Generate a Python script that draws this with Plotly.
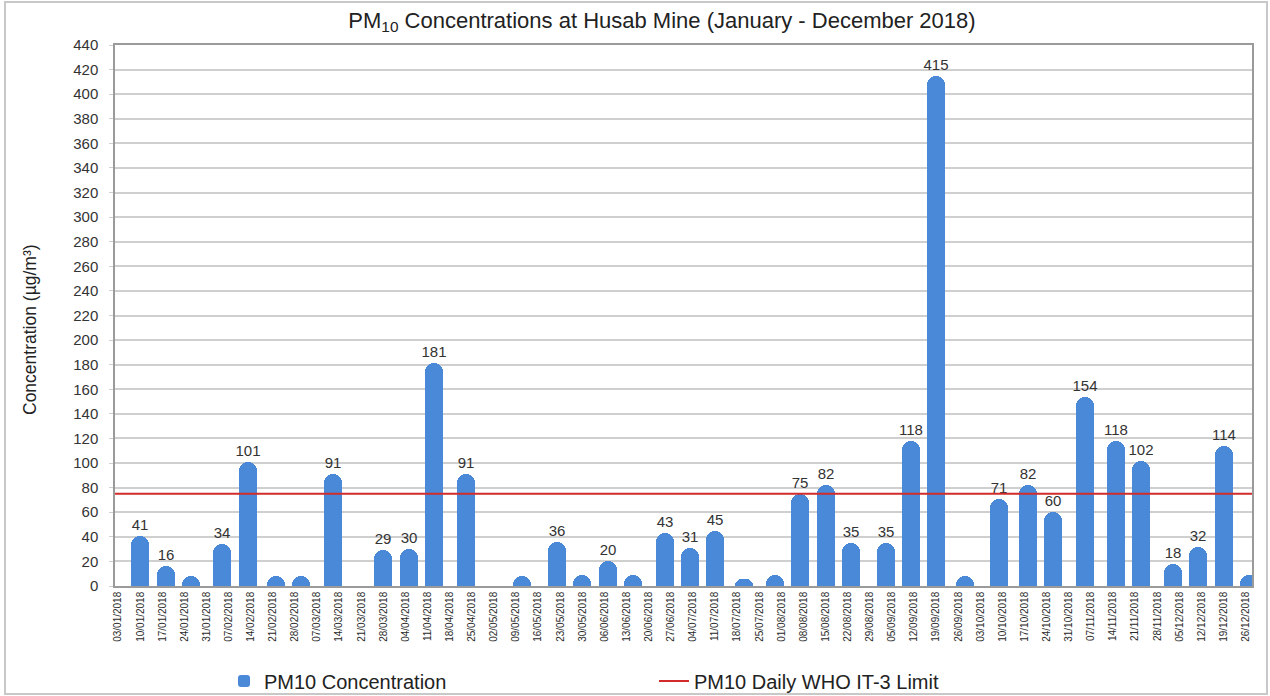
import plotly.graph_objects as go

# ---- data ----
sample_dates = [
    "2018-01-10", "2018-01-18", "2018-01-26", "2018-02-05", "2018-02-13",
    "2018-02-22", "2018-03-02", "2018-03-12", "2018-03-28", "2018-04-05",
    "2018-04-13", "2018-04-23", "2018-05-11", "2018-05-22", "2018-05-30",
    "2018-06-07", "2018-06-15", "2018-06-25", "2018-07-03", "2018-07-11",
    "2018-07-20", "2018-07-30", "2018-08-07", "2018-08-15", "2018-08-23",
    "2018-09-03", "2018-09-11", "2018-09-19", "2018-09-28", "2018-10-09",
    "2018-10-18", "2018-10-26", "2018-11-05", "2018-11-15", "2018-11-23",
    "2018-12-03", "2018-12-11", "2018-12-19", "2018-12-27",
]
pm10_values = [
    41, 16, 8, 34, 101,
    8, 8, 91, 29, 30,
    181, 91, 8, 36, 9,
    20, 9, 43, 31, 45,
    6, 9, 75, 82, 35,
    35, 118, 415, 8, 71,
    82, 60, 154, 118, 102,
    18, 32, 114, 9,
]
who_limit = 75
axis_start = "2018-01-02"
axis_end = "2018-12-28"
first_tick = "2018-01-03"

title_text = "PM<sub>10</sub> Concentrations at Husab Mine (January - December 2018)"
y_title = "Concentration (µg/m³)"
bar_name = "PM10 Concentration"
line_name = "PM10 Daily WHO IT-3 Limit"

DAY_MS = 86400000
FONT = "Liberation Sans, Arial, sans-serif"
BLUE = "#4A88D8"
RED = "#D22B2B"

labels = [str(v) if v >= 12 else "" for v in pm10_values]

fig = go.Figure()
fig.add_trace(go.Bar(
    x=sample_dates, y=pm10_values, name=bar_name,
    width=5.7 * DAY_MS,
    marker=dict(color=BLUE, cornerradius="50%", line=dict(width=0)),
    text=labels, textposition="outside", constraintext="none",
    textfont=dict(family=FONT, size=15, color="#333333"),
    cliponaxis=False,
))
fig.add_trace(go.Scatter(
    x=[axis_start, axis_end], y=[who_limit, who_limit], name=line_name,
    mode="lines", line=dict(color=RED, width=2),
))

L, R, T, B = 115, 18, 45, 110
W, H = 1270, 696
pw, ph = W - L - R, H - T - B

fig.update_layout(
    width=W, height=H,
    margin=dict(l=L, r=R, t=T, b=B, autoexpand=False),
    paper_bgcolor="white", plot_bgcolor="white",
    font=dict(family=FONT, color="#333333"),
    title=dict(text=title_text, x=662 / W, xanchor="center", xref="container",
               y=1 - 20 / H, yanchor="middle", yref="container",
               font=dict(size=22, color="#222222", family=FONT)),
    bargap=0,
    showlegend=True,
    legend=dict(orientation="h", x=(224 - L) / pw, xanchor="left",
                y=(H - B - 681) / ph, yanchor="middle",
                font=dict(size=20, color="#222222", family=FONT),
                entrywidth=385, entrywidthmode="pixels",
                itemwidth=30, bgcolor="rgba(0,0,0,0)"),
    xaxis=dict(
        type="date", range=[axis_start, axis_end],
        tick0=first_tick, dtick=7 * DAY_MS, tickformat="%d/%m/%Y",
        tickangle=-90, tickfont=dict(size=10, color="#2a2a2a", family=FONT),
        showgrid=False, showline=True, linecolor="#9a9a9a", linewidth=1.5,
        mirror=True, ticks="", automargin=False,
    ),
    yaxis=dict(
        range=[0, 440], dtick=20, tick0=0,
        tickfont=dict(size=15, color="#333333", family=FONT),
        showgrid=True, gridcolor="#cfcfcf", gridwidth=2,
        showline=True, linecolor="#9a9a9a", linewidth=1.5, mirror=True,
        ticks="outside", ticklen=4, tickcolor="#cfcfcf",
        ticklabelstandoff=8, zeroline=False, automargin=False,
    ),
)

# y-axis title placed like the reference (slightly below the plot's centre)
fig.add_annotation(text=y_title, xref="paper", yref="paper",
                   x=(30 - L) / pw, y=(H - B - 330) / ph,
                   xanchor="center", yanchor="middle", textangle=-90,
                   showarrow=False,
                   font=dict(size=17.5, color="#222222", family=FONT))

# outer frame of the picture
fig.add_shape(type="rect", xref="paper", yref="paper",
              x0=(5 - L) / pw, x1=(1267 - L) / pw,
              y0=(H - B - 694) / ph, y1=(H - B - 2) / ph,
              line=dict(color="#c8c8c8", width=2), fillcolor="rgba(0,0,0,0)",
              layer="below")

fig.write_html("out.html", config={"displayModeBar": False},
               post_script="document.body.style.margin='0';")
